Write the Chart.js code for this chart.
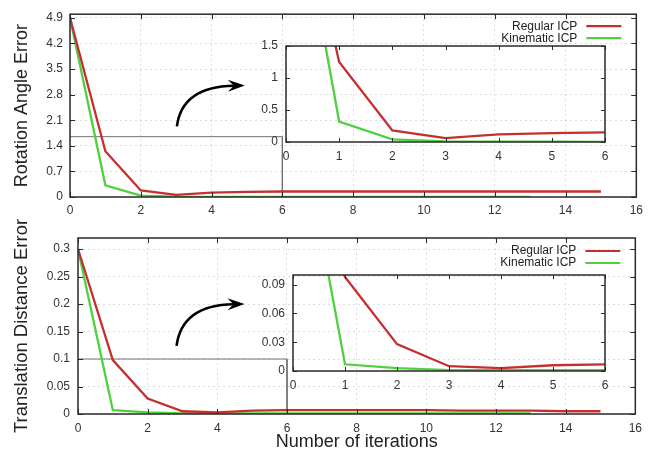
<!DOCTYPE html>
<html>
<head>
<meta charset="utf-8">
<script src="https://cdn.jsdelivr.net/npm/chart.js@4.4.1/dist/chart.umd.min.js"></script>
<style>
  body { margin: 0; background: #fff; }
  #wrap { position: relative; width: 649px; height: 453px; }
  canvas { position: absolute; }
</style>
</head>
<body>
<div id="wrap">
  <canvas id="rotMain" width="649" height="226" style="left:0px;top:0px"></canvas>
  <canvas id="transMain" width="649" height="239" style="left:0px;top:214px"></canvas>
  <canvas id="rotZoom" width="390" height="140" style="left:230px;top:30px"></canvas>
  <canvas id="transZoom" width="390" height="140" style="left:230px;top:255px"></canvas>
</div>
<script>
// ICP convergence: error per iteration, regular vs kinematic
var iterations = [0, 1, 2, 3, 4, 5, 6, 7, 8, 9, 10, 11, 12, 13, 14, 15];

var rotRegular = [4.9, 1.25, 0.18, 0.06, 0.12, 0.14, 0.15, 0.15, 0.15, 0.15, 0.15, 0.15, 0.15, 0.15, 0.15, 0.15];
var rotKinematic = [4.9, 0.32, 0.04, 0.01, 0.005, 0.004, 0.003, 0.003, 0.003, 0.003, 0.003, 0.003, 0.003, 0.003];

var transRegular = [0.3, 0.098, 0.028, 0.005, 0.003, 0.006, 0.007, 0.007, 0.007, 0.007, 0.007, 0.006, 0.006, 0.006, 0.005, 0.005];
var transKinematic = [0.3, 0.007, 0.003, 0.001, 0.001, 0.001, 0.001, 0.001, 0.001, 0.001, 0.001, 0.001, 0.001, 0.001];

// zoom window outlines (x, y corners)
var rotBox = [[0, 1.65], [6, 1.65], [6, 0]];
var transBox = [[0, 0.1], [6, 0.1], [6, 0]];

var iterTicks = [0, 2, 4, 6, 8, 10, 12, 14, 16];
var zoomIterTicks = [0, 1, 2, 3, 4, 5, 6];
var rotTicks = [0, 0.7, 1.4, 2.1, 2.8, 3.5, 4.2, 4.9];
var transTicks = [0, 0.05, 0.1, 0.15, 0.2, 0.25, 0.3];
var rotZoomTicks = [0, 0.5, 1, 1.5];
var transZoomTicks = [0, 0.03, 0.06, 0.09];

var RED = "#c62f2f";
var GREEN = "#4fd13f";

Chart.defaults.font.family = '"Liberation Sans", Arial, sans-serif';
Chart.defaults.font.size = 12;
Chart.defaults.color = "#333";

function pairs(xs, ys) {
    return ys.map(function (y, i) { return {x: xs[i], y: y}; });
}

function corners(box) {
    return box.map(function (p) { return {x: p[0], y: p[1]}; });
}

function fixedTicks(values) {
    return function (scale) {
        scale.ticks = values.map(function (v) { return {value: v}; });
    };
}

// gnuplot style frame with inward ticks on all four sides
var framePlugin = {
    id: "frame",
    afterDatasetsDraw: function (chart, args, opts) {
        var a = chart.chartArea, ctx = chart.ctx, len = opts.tick;
        var xs = chart.scales.x, ys = chart.scales.y;
        ctx.save();
        ctx.strokeStyle = "#2a2a2a";
        ctx.lineWidth = 1;
        ctx.beginPath();
        xs.ticks.forEach(function (t) {
            var px = Math.round(xs.getPixelForValue(t.value)) + 0.5;
            ctx.moveTo(px, a.bottom); ctx.lineTo(px, a.bottom - len);
            ctx.moveTo(px, a.top); ctx.lineTo(px, a.top + len);
        });
        ys.ticks.forEach(function (t) {
            var py = Math.round(ys.getPixelForValue(t.value)) + 0.5;
            ctx.moveTo(a.left, py); ctx.lineTo(a.left + len, py);
            ctx.moveTo(a.right, py); ctx.lineTo(a.right - len, py);
        });
        ctx.stroke();
        ctx.lineWidth = 1.5;
        ctx.strokeRect(a.left, a.top, a.right - a.left, a.bottom - a.top);
        ctx.restore();
    }
};

// key in the top right corner: text first, then the line sample
var keyPlugin = {
    id: "key",
    afterDraw: function (chart, args, opts) {
        var a = chart.chartArea, ctx = chart.ctx;
        var row = 0;
        ctx.save();
        ctx.font = "12px " + Chart.defaults.font.family;
        ctx.textAlign = "right";
        ctx.textBaseline = "middle";
        chart.data.datasets.forEach(function (ds) {
            if (!ds.label) return;
            var y = a.top + opts.top + row * 12;
            ctx.fillStyle = "#222";
            ctx.fillText(ds.label, a.right - 59, y);
            ctx.strokeStyle = ds.borderColor;
            ctx.lineWidth = 2.2;
            ctx.beginPath();
            ctx.moveTo(a.right - 50, y);
            ctx.lineTo(a.right - 15, y);
            ctx.stroke();
            row++;
        });
        ctx.restore();
    }
};

// curved arrow pointing at the zoomed view
var arrowPlugin = {
    id: "arrow",
    afterDraw: function (chart, args, opts) {
        var xs = chart.scales.x, ys = chart.scales.y, ctx = chart.ctx;
        var p0 = [xs.getPixelForValue(opts.from[0]), ys.getPixelForValue(opts.from[1])];
        var p1 = [xs.getPixelForValue(opts.ctrl[0]), ys.getPixelForValue(opts.ctrl[1])];
        var tip = [xs.getPixelForValue(opts.to[0]), ys.getPixelForValue(opts.to[1])];
        var dx = tip[0] - p1[0], dy = tip[1] - p1[1];
        var d = Math.sqrt(dx * dx + dy * dy);
        var ux = dx / d, uy = dy / d;
        var headLen = 17, notch = 11, half = 6;
        var end = [tip[0] - ux * notch, tip[1] - uy * notch];
        ctx.save();
        ctx.strokeStyle = "#000";
        ctx.fillStyle = "#000";
        ctx.lineWidth = 2.6;
        ctx.beginPath();
        ctx.moveTo(p0[0], p0[1]);
        ctx.quadraticCurveTo(p1[0], p1[1], end[0], end[1]);
        ctx.stroke();
        ctx.beginPath();
        ctx.moveTo(tip[0], tip[1]);
        ctx.lineTo(tip[0] - ux * headLen - uy * half, tip[1] - uy * headLen + ux * half);
        ctx.lineTo(end[0], end[1]);
        ctx.lineTo(tip[0] - ux * headLen + uy * half, tip[1] - uy * headLen - ux * half);
        ctx.closePath();
        ctx.fill();
        ctx.restore();
    }
};

function line(label, data, color, width) {
    return {
        label: label,
        data: data,
        borderColor: color,
        borderWidth: width,
        pointRadius: 0,
        tension: 0,
        fill: false
    };
}

function mainChart(id, cfg) {
    var datasets = [
        line("Regular ICP", pairs(iterations, cfg.regular), RED, 2.3),
        line("Kinematic ICP", pairs(iterations, cfg.kinematic), GREEN, 2.3),
        line("", corners(cfg.box), "#707070", 1)
    ];
    return new Chart(document.getElementById(id), {
        type: "line",
        data: {datasets: datasets},
        options: {
            responsive: false,
            animation: false,
            events: [],
            layout: {padding: cfg.padding},
            plugins: {
                legend: {display: false},
                tooltip: {enabled: false},
                frame: {tick: 5},
                key: {top: cfg.keyTop},
                arrow: cfg.arrow
            },
            scales: {
                x: {
                    type: "linear",
                    min: 0,
                    max: 16,
                    afterBuildTicks: fixedTicks(iterTicks),
                    afterFit: function (s) { s.height = cfg.xHeight; },
                    ticks: {padding: cfg.xPad, callback: function (v) { return String(v); }},
                    grid: {color: "rgba(0,0,0,0.13)", drawTicks: false},
                    border: {display: false, dash: [2, 3]},
                    title: {
                        display: !!cfg.xTitle,
                        text: cfg.xTitle || "",
                        color: "#222",
                        font: {size: 18},
                        padding: {top: 0, bottom: 0}
                    }
                },
                y: {
                    type: "linear",
                    min: 0,
                    max: cfg.yMax,
                    afterBuildTicks: fixedTicks(cfg.yTicks),
                    afterFit: function (s) { s.width = cfg.yWidth; },
                    ticks: {padding: cfg.yPad, callback: function (v) { return String(v); }},
                    grid: {color: "rgba(0,0,0,0.13)", drawTicks: false},
                    border: {display: false, dash: [2, 3]},
                    title: {
                        display: true,
                        text: cfg.yTitle,
                        color: "#222",
                        font: {size: cfg.yTitleSize},
                        padding: {top: 11, bottom: 0}
                    }
                }
            }
        },
        plugins: [framePlugin, keyPlugin, arrowPlugin]
    });
}

function zoomChart(id, cfg) {
    var datasets = [
        line("Regular ICP", pairs(iterations, cfg.regular), RED, 2.3),
        line("Kinematic ICP", pairs(iterations, cfg.kinematic), GREEN, 2.3)
    ];
    return new Chart(document.getElementById(id), {
        type: "line",
        data: {datasets: datasets},
        options: {
            responsive: false,
            animation: false,
            events: [],
            layout: {padding: cfg.padding},
            plugins: {
                legend: {display: false},
                tooltip: {enabled: false},
                frame: {tick: 4}
            },
            scales: {
                x: {
                    type: "linear",
                    min: 0,
                    max: 6,
                    afterBuildTicks: fixedTicks(zoomIterTicks),
                    afterFit: function (s) { s.height = 20; },
                    ticks: {padding: 7, callback: function (v) { return String(v); }},
                    grid: {display: false, drawTicks: false},
                    border: {display: false}
                },
                y: {
                    type: "linear",
                    min: 0,
                    max: cfg.yMax,
                    afterBuildTicks: fixedTicks(cfg.yTicks),
                    afterFit: function (s) { s.width = cfg.yWidth; },
                    ticks: {padding: 8, callback: function (v) { return String(v); }},
                    grid: {display: false, drawTicks: false},
                    border: {display: false}
                }
            }
        },
        plugins: [framePlugin]
    });
}

mainChart("rotMain", {
    regular: rotRegular,
    kinematic: rotKinematic,
    box: rotBox,
    yMax: 5,
    yTicks: rotTicks,
    yTitle: "Rotation Angle Error",
    yTitleSize: 18,
    yWidth: 70,
    yPad: 7,
    xHeight: 22,
    xPad: 6,
    padding: {left: 0, top: 10, right: 12, bottom: 7},
    keyTop: 12,
    arrow: {from: [3.02, 1.93], ctrl: [3.16, 3.02], to: [4.94, 3.05]}
});

mainChart("transMain", {
    regular: transRegular,
    kinematic: transKinematic,
    box: transBox,
    yMax: 0.32,
    yTicks: transTicks,
    yTitle: "Translation Distance Error",
    yTitleSize: 18.5,
    xTitle: "Number of iterations",
    yWidth: 78,
    yPad: 8,
    xHeight: 39,
    xPad: 7,
    padding: {left: 0, top: 24, right: 12, bottom: 0},
    keyTop: 13,
    arrow: {from: [2.83, 0.124], ctrl: [2.98, 0.198], to: [4.78, 0.2]}
});

zoomChart("rotZoom", {
    regular: rotRegular,
    kinematic: rotKinematic,
    yMax: 1.5,
    yTicks: rotZoomTicks,
    yWidth: 56,
    padding: {left: 0, top: 16, right: 15, bottom: 8}
});

zoomChart("transZoom", {
    regular: transRegular,
    kinematic: transKinematic,
    yMax: 0.1,
    yTicks: transZoomTicks,
    yWidth: 63,
    padding: {left: 0, top: 20, right: 15, bottom: 4}
});
</script>
</body>
</html>
